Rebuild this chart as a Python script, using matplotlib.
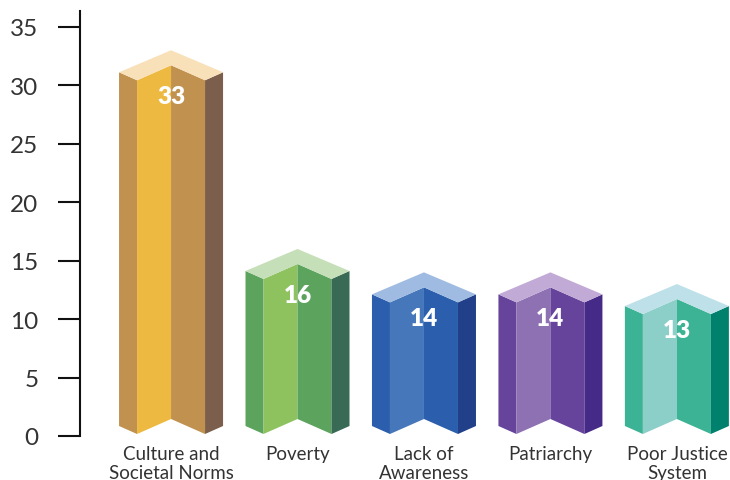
import matplotlib
matplotlib.use("Agg")
import matplotlib.pyplot as plt

categories = ["Culture and\nSocietal Norms", "Poverty", "Lack of\nAwareness", "Patriarchy", "Poor Justice\nSystem"]
values = [33, 16, 14, 14, 13]
yticks = [0, 5, 10, 15, 20, 25, 30, 35]

# face colours: top, left side, front-left, front-right, right side
palettes = [
    ["#F8E0B8", "#C0914F", "#EDB940", "#C0914F", "#7B5F4C"],
    ["#C5DFB8", "#5CA35E", "#8DC25F", "#5CA35E", "#386A55"],
    ["#9FBBE2", "#2B5FAD", "#4677BA", "#2B5FAD", "#223F8A"],
    ["#C2AAD6", "#66449C", "#8D71B2", "#66449C", "#452A87"],
    ["#BEE0E8", "#3BB394", "#8CCEC8", "#3BB394", "#00816E"],
]

plt.rcParams['font.family'] = ['Lato', 'DejaVu Sans']

fig = plt.figure(figsize=(7.3, 4.81), dpi=100)
ax = fig.add_axes([80/730, 1-437/481, 1-80/730, (437-12)/481])

ymax = 36.36
xmin, xmax = -0.72, 4.42
ax.set_xlim(xmin, xmax)
ax.set_ylim(0, ymax)

# pixel -> data conversion factors
ppx = 650 / (xmax - xmin)      # px per x unit
ppy = 425 / ymax               # px per y unit

def dx(p):
    return p / ppx

def dy(p):
    return p / ppy

base = dy(2)
for i, (v, pal) in enumerate(zip(values, palettes)):
    top_c, left_c, fl_c, fr_c, right_c = pal
    # top outline points
    L = (i - dx(52), v - dy(22))
    LI = (i - dx(34), v - dy(30))
    F = (i, v - dy(15))
    RI = (i + dx(34), v - dy(30))
    R = (i + dx(52), v - dy(22))
    B = (i, v)
    # bottom points
    Lb = (i - dx(52), base + dy(8))
    LIb = (i - dx(34), base)
    Fb = (i, base + dy(15))
    RIb = (i + dx(34), base)
    Rb = (i + dx(52), base + dy(8))

    faces = [
        ([L, LI, LIb, Lb], left_c),
        ([LI, F, Fb, LIb], fl_c),
        ([F, RI, RIb, Fb], fr_c),
        ([RI, R, Rb, RIb], right_c),
        ([L, B, R, RI, F, LI], top_c),
    ]
    for pts, c in faces:
        xs = [p[0] for p in pts]
        ys = [p[1] for p in pts]
        ax.fill(xs, ys, color=c, linewidth=0, zorder=3)

    ax.text(i, v - dy(46), str(v), ha='center', va='center', color='white',
            fontsize=17.5, fontweight='heavy', zorder=5)

for s in ['top', 'right', 'bottom']:
    ax.spines[s].set_visible(False)
ax.spines['left'].set_linewidth(1.5)
ax.spines['left'].set_color('#111111')

ax.set_yticks(yticks)
ax.set_yticklabels([str(t) for t in yticks])
ax.tick_params(axis='y', direction='out', length=16, width=1.5, color='#111111',
               labelsize=17.5, labelcolor='#333333', pad=14)

ax.set_xticks(range(len(categories)))
ax.set_xticklabels(categories, linespacing=1.12)
ax.tick_params(axis='x', length=0, labelsize=13.5, labelcolor='#333333', pad=6.5)

fig.savefig("out.png", dpi=100)
